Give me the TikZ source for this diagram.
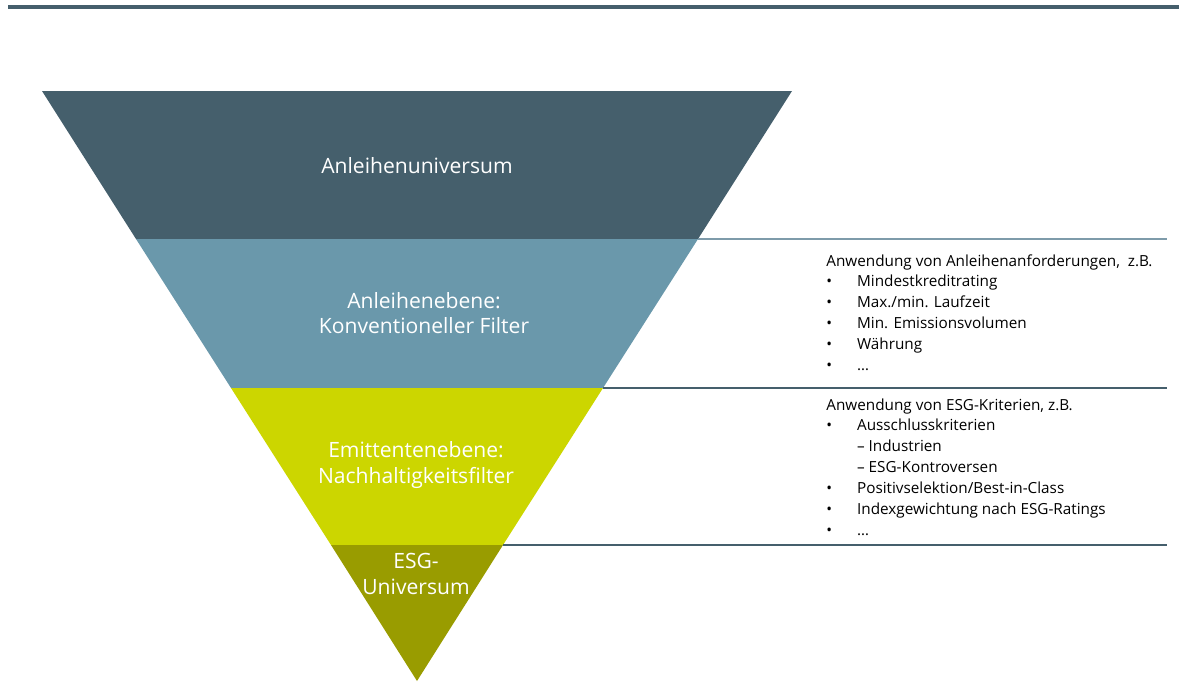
\documentclass[tikz,border=0pt]{standalone}
\usepackage{fontspec}
\setmainfont{Open Sans}
\usepackage{xcolor}
\usetikzlibrary{positioning,calc}

\definecolor{funnelSlate}{HTML}{455F6C}
\definecolor{funnelSteel}{HTML}{6A98AB}
\definecolor{funnelLime}{HTML}{CCD600}
\definecolor{funnelOlive}{HTML}{999C00}
\definecolor{ruleLight}{HTML}{7E9BAA}

\tikzset{
    band/.style={text=white, align=center, inner sep=0pt, font=\fontsize{12}{14.3}\selectfont},
    info/.style={anchor=north west, inner sep=0pt, font=\fontsize{8.7}{11.9}\selectfont},
    sep/.style={line width=0.6pt, draw=funnelSlate}
}

\begin{document}
\begin{tikzpicture}[x=0.02cm, y=-0.02cm]
    \useasboundingbox (0,0) rectangle (1179,681);

    % Header rule
    \draw [funnelSlate, line width=1.9pt] (8,7) -- (1179,7);

    % Funnel corners and band levels
    \coordinate (tl) at (42,91);
    \coordinate (tr) at (792,91);
    \coordinate (tip) at (417,681);
    \coordinate (a1) at (136,239);  \coordinate (b1) at (698,239);
    \coordinate (a2) at (231,388);  \coordinate (b2) at (603,388);
    \coordinate (a3) at (331,545);  \coordinate (b3) at (503,545);

    \fill [funnelSlate] (tl) -- (tr) -- (b1) -- (a1) -- cycle; % Universe
    \fill [funnelSteel] (a1) -- (b1) -- (b2) -- (a2) -- cycle; % Conventional
    \fill [funnelLime] (a2) -- (b2) -- (b3) -- (a3) -- cycle;  % Sustainability
    \fill [funnelOlive] (a3) -- (b3) -- (tip) -- cycle;        % ESG

    % Separators to the right
    \coordinate (e1) at (1167,239);
    \coordinate (e2) at (1167,388);
    \coordinate (e3) at (1167,545);
    \draw [sep, draw=ruleLight] (b1) -- (e1);
    \draw [sep] (b2) -- (e2);
    \draw [sep] (b3) -- (e3);

    % Band labels
    \node [band] (univ) at (417,166) {Anleihenuniversum};
    \node [band] (conv) at (424,313) {Anleihenebene:\\Konventioneller Filter};
    \node [band] (sust) at (416,465) {Emittentenebene:\\Nachhaltigkeitsfilter};
    \node [band] (esg) at (416,574) {ESG-\\Universum};

    % Criteria
    \node [info] (convinfo) at (826,251) {%
        \begin{tabular}{@{}p{17.5pt}@{}l@{}}
        \multicolumn{2}{@{}l@{}}{Anwendung von Anleihenanforderungen,\ \ z.B.}\\
        \textbullet & Mindestkreditrating\\
        \textbullet & Max./min. Laufzeit\\
        \textbullet & Min. Emissionsvolumen\\
        \textbullet & Währung\\
        \textbullet & \dots
        \end{tabular}};
    \node [info] (sustinfo) at (826,395) {%
        \begin{tabular}{@{}p{17.5pt}@{}l@{}}
        \multicolumn{2}{@{}l@{}}{Anwendung von ESG-Kriterien, z.B.}\\
        \textbullet & Ausschlusskriterien\\
         & \textendash\ Industrien\\
         & \textendash\ ESG-Kontroversen\\
        \textbullet & Positivselektion/Best-in-Class\\
        \textbullet & Indexgewichtung nach ESG-Ratings\\
        \textbullet & \dots
        \end{tabular}};
\end{tikzpicture}
\end{document}
